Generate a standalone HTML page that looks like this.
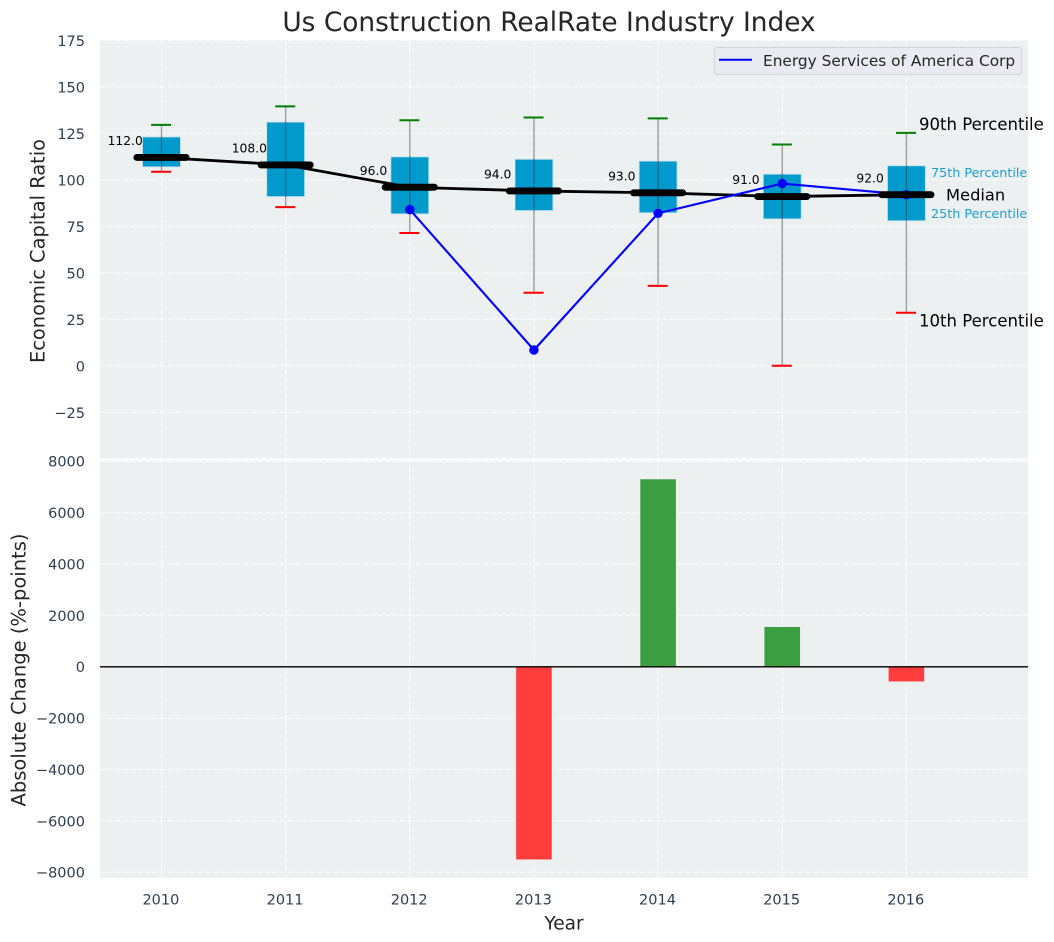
<!DOCTYPE html>
<html>
<head>
<meta charset="utf-8">
<title>Us Construction RealRate Industry Index</title>
<style>
html,body{margin:0;padding:0;background:#fff;width:1054px;height:942px;overflow:hidden}
svg{display:block;font-family:"DejaVu Sans","Liberation Sans",sans-serif}
</style>
</head>
<body>
<svg id="chart" xmlns="http://www.w3.org/2000/svg" width="1054" height="942" viewBox="0 0 1054 942"></svg>
<script>
const years = [2010, 2011, 2012, 2013, 2014, 2015, 2016];
const p90 = [129.5, 139.5, 132, 133.5, 133, 119, 125.2];
const p75 = [123, 131, 112.3, 111, 110, 103, 107.5];
const medians = [112, 108, 96, 94, 93, 91, 92];
const p25 = [107, 91, 81.7, 83.5, 82.3, 79, 78];
const p10 = [104.3, 85.3, 71.4, 39.3, 43, 0, 28.5];
const companyYears = [2012, 2013, 2014, 2015, 2016];
const companyValues = [84, 8.5, 82, 98, 92];
const changeYears = [2013, 2014, 2015, 2016];
const changeValues = [-7500, 7300, 1550, -570];
const topTicks = [175, 150, 125, 100, 75, 50, 25, 0, -25];
const bottomTicks = [8000, 6000, 4000, 2000, 0, -2000, -4000, -6000, -8000];

const svg = document.getElementById('chart');
const NS = 'http://www.w3.org/2000/svg';
const L = 100, R = 1028, T1 = 40, B1 = 458.5, T2 = 460.3, B2 = 877.8;
const TICK = '#2c3e50', INK = '#262626', BOX = '#009acd';
const GRID = {stroke:'#fff', 'stroke-width':1.2, 'stroke-dasharray':'5.3 2.2', opacity:0.75};

function x(v){ return 161.5 + (v - 2010) * 124.15; }
function y1(v){ return 365.8 - v * 1.86; }
function y2(v){ return 666.8 - v * 0.02569; }
function mk(tag, attrs, text){
  const el = document.createElementNS(NS, tag);
  for (const k in attrs) el.setAttribute(k, attrs[k]);
  if (text !== undefined) el.textContent = text;
  svg.appendChild(el);
  return el;
}
function fmtTick(v){ return v < 0 ? '\u2212' + Math.abs(v) : String(v); }

let el;
el = mk('rect', {x:L, y:T1, width:R-L, height:B1-T1, fill:'#ecf0f1'});


el = mk('rect', {x:L, y:T2, width:R-L, height:B2-T2, fill:'#ecf0f1'});



topTicks.forEach(function(t){
  el = mk('line', Object.assign({x1:L, x2:R, y1:y1(t), y2:y1(t)}, GRID));
  
  
  el = mk('text', {x:85, y:y1(t)+5.6, 'text-anchor':'end', 'font-size':14.5, fill:TICK}, fmtTick(t));
  
  
});
bottomTicks.forEach(function(t){
  el = mk('line', Object.assign({x1:L, x2:R, y1:y2(t), y2:y2(t)}, GRID));
  
  
  el = mk('text', {x:85, y:y2(t)+5.4, 'text-anchor':'end', 'font-size':14.5, fill:TICK}, fmtTick(t));
  
  
});
years.forEach(function(yr){
  el = mk('line', Object.assign({x1:x(yr), x2:x(yr), y1:T1, y2:B1}, GRID));
  
  
  el = mk('line', Object.assign({x1:x(yr), x2:x(yr), y1:T2, y2:B2}, GRID));
  
  
  el = mk('text', {x:x(yr)-0.6, y:904.5, 'text-anchor':'middle', 'font-size':14.5, fill:TICK}, String(yr));
  
  
});

years.forEach(function(yr, i){
  const cx = x(yr);
  el = mk('rect', {x:cx-18.9, y:y1(p75[i]), width:37.8, height:y1(p25[i])-y1(p75[i]), fill:BOX, stroke:'#b5dcec', 'stroke-width':0.8});
  
  
  el = mk('line', {x1:cx, x2:cx, y1:y1(p90[i]), y2:y1(p10[i]), stroke:'#333', 'stroke-width':1.4, opacity:0.45});
  
  
  el = mk('line', {x1:cx-10.4, x2:cx+9.6, y1:y1(p90[i]), y2:y1(p90[i]), stroke:'#008000', 'stroke-width':2});
  
  
  el = mk('line', {x1:cx-10.4, x2:cx+9.6, y1:y1(p10[i]), y2:y1(p10[i]), stroke:'#ff0000', 'stroke-width':2});
  
  
});

el = mk('polyline', {points:years.map(function(yr,i){return x(yr)+','+y1(medians[i]);}).join(' '), fill:'none', stroke:'#000', 'stroke-width':2.8});



el = mk('polyline', {points:companyYears.map(function(yr,i){return x(yr)+','+y1(companyValues[i]);}).join(' '), fill:'none', stroke:'#0000ff', 'stroke-width':2.1});


companyYears.forEach(function(yr,i){
  el = mk('circle', {cx:x(yr), cy:y1(companyValues[i]), r:4.7, fill:'#0000ff'});
  
  
});

years.forEach(function(yr, i){
  const cx = x(yr), my = y1(medians[i]);
  el = mk('line', {x1:cx-24.6, x2:cx+24.6, y1:my, y2:my, stroke:'#000', 'stroke-width':6.9, 'stroke-linecap':'round'});
  
  
  el = mk('text', {x:cx-36.3, y:my-12.3, 'text-anchor':'middle', 'font-size':12.3, fill:'#000'}, medians[i].toFixed(1));
  
  
});

changeYears.forEach(function(yr,i){
  const v = changeValues[i];
  el = mk('rect', {x:x(yr)-17.8, y:Math.min(y2(v),y2(0)), width:35.6, height:Math.abs(y2(v)-y2(0)), fill:v>=0?'#3b9e40':'#ff3d3d'});
  
  
});
el = mk('line', {x1:L, x2:R, y1:y2(0), y2:y2(0), stroke:'#000', 'stroke-width':1.4});



el = mk('text', {x:919, y:130, 'font-size':16.55, fill:'#000'}, '90th Percentile');


el = mk('text', {x:931, y:177, 'font-size':12.75, fill:'#1a9fd1'}, '75th Percentile');


el = mk('text', {x:946, y:200.5, 'font-size':16.3, fill:'#000'}, 'Median');


el = mk('text', {x:931, y:218, 'font-size':12.75, fill:'#1a9fd1'}, '25th Percentile');


el = mk('text', {x:919, y:326.5, 'font-size':16.55, fill:'#000'}, '10th Percentile');



el = mk('rect', {x:714.3, y:47.4, width:307.4, height:27, rx:3, fill:'#eaeaf2', stroke:'#d3d3d8', 'stroke-width':1});


el = mk('line', {x1:719, x2:752, y1:59.8, y2:59.8, stroke:'#0000ff', 'stroke-width':2});


el = mk('text', {x:763, y:66, 'font-size':15.35, fill:INK}, 'Energy Services of America Corp');



el = mk('text', {x:549, y:31, 'text-anchor':'middle', 'font-size':26.4, fill:INK}, 'Us Construction RealRate Industry Index');


el = mk('text', {x:564, y:929.5, 'text-anchor':'middle', 'font-size':18.6, fill:INK}, 'Year');


el = mk('text', {transform:'translate(44.5,251) rotate(-90)', 'text-anchor':'middle', 'font-size':19.4, fill:INK}, 'Economic Capital Ratio');


el = mk('text', {transform:'translate(25.5,670) rotate(-90)', 'text-anchor':'middle', 'font-size':19.5, fill:INK}, 'Absolute Change (%-points)');


</script>
</body>
</html>
